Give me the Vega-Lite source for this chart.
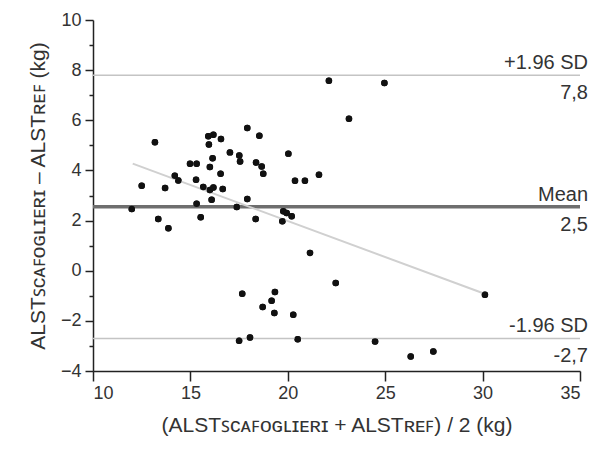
{
  "$schema": "https://vega.github.io/schema/vega-lite/v6.json",
  "width": 487,
  "height": 351,
  "autosize": {"type": "none"},
  "padding": {"left": 93, "top": 20, "right": 33, "bottom": 85},
  "background": "white",
  "config": {
    "view": {"stroke": null},
    "font": "Liberation Sans",
    "axis": {
      "grid": false,
      "domainColor": "#222",
      "domainWidth": 1.5,
      "tickColor": "#222",
      "tickWidth": 1.5,
      "tickSize": 8,
      "labelFontSize": 18,
      "labelColor": "#333",
      "titleFontSize": 21,
      "titleFontWeight": "normal",
      "titleColor": "#333"
    }
  },
  "resolve": {"axis": {"y": "independent"}},
  "datasets": {
    "pts": [
      {"avg": 11.99, "diff": 2.46}, {"avg": 12.5, "diff": 3.39}, {"avg": 13.18, "diff": 5.12},
      {"avg": 13.35, "diff": 2.06}, {"avg": 13.7, "diff": 3.3}, {"avg": 13.87, "diff": 1.69},
      {"avg": 14.2, "diff": 3.79}, {"avg": 14.38, "diff": 3.6}, {"avg": 14.98, "diff": 4.27},
      {"avg": 15.32, "diff": 4.27}, {"avg": 15.29, "diff": 3.63}, {"avg": 15.66, "diff": 3.34},
      {"avg": 15.32, "diff": 2.67}, {"avg": 15.53, "diff": 2.13}, {"avg": 15.92, "diff": 5.36},
      {"avg": 16.18, "diff": 5.42}, {"avg": 16.57, "diff": 5.25}, {"avg": 15.95, "diff": 5.03},
      {"avg": 16.14, "diff": 4.49}, {"avg": 16.0, "diff": 4.14}, {"avg": 16.55, "diff": 3.87},
      {"avg": 16.0, "diff": 3.22}, {"avg": 16.18, "diff": 3.32}, {"avg": 16.66, "diff": 3.26},
      {"avg": 16.09, "diff": 2.83}, {"avg": 17.03, "diff": 4.72}, {"avg": 17.51, "diff": 4.6},
      {"avg": 17.55, "diff": 4.36}, {"avg": 17.92, "diff": 5.69}, {"avg": 18.54, "diff": 5.38},
      {"avg": 18.37, "diff": 4.32}, {"avg": 18.66, "diff": 4.16}, {"avg": 18.74, "diff": 3.87},
      {"avg": 17.92, "diff": 2.86}, {"avg": 17.38, "diff": 2.54}, {"avg": 18.35, "diff": 2.06},
      {"avg": 20.03, "diff": 4.67}, {"avg": 20.37, "diff": 3.59}, {"avg": 20.88, "diff": 3.59},
      {"avg": 21.6, "diff": 3.83}, {"avg": 22.11, "diff": 7.58}, {"avg": 24.96, "diff": 7.49},
      {"avg": 23.14, "diff": 6.06}, {"avg": 19.77, "diff": 2.37}, {"avg": 19.94, "diff": 2.3},
      {"avg": 20.2, "diff": 2.17}, {"avg": 19.72, "diff": 1.97}, {"avg": 21.14, "diff": 0.71},
      {"avg": 22.46, "diff": -0.49}, {"avg": 30.12, "diff": -0.96}, {"avg": 17.66, "diff": -0.92},
      {"avg": 19.34, "diff": -0.85}, {"avg": 19.17, "diff": -1.2}, {"avg": 18.71, "diff": -1.45},
      {"avg": 19.31, "diff": -1.69}, {"avg": 20.28, "diff": -1.76}, {"avg": 17.5, "diff": -2.79},
      {"avg": 18.06, "diff": -2.66}, {"avg": 20.51, "diff": -2.73}, {"avg": 24.48, "diff": -2.82},
      {"avg": 26.31, "diff": -3.42}, {"avg": 27.47, "diff": -3.22}
    ],
    "sd": [{"y": 7.8}, {"y": -2.7}],
    "mean": [{"y": 2.55}],
    "reg": [{"avg": 12.04, "diff": 4.27}, {"avg": 30.1, "diff": -0.92}],
    "labels": [
      {"x": 35, "y": 7.8, "top": "+1.96 SD", "bottom": "7,8"},
      {"x": 35, "y": 2.55, "top": "Mean", "bottom": "2,5"},
      {"x": 35, "y": -2.7, "top": "-1.96 SD", "bottom": "-2,7"}
    ]
  },
  "layer": [
    {
      "data": {"name": "pts"},
      "mark": {"type": "circle", "color": "#111", "opacity": 1, "size": 42},
      "encoding": {
        "x": {
          "field": "avg", "type": "quantitative",
          "scale": {"domain": [10, 35], "nice": false, "zero": false},
          "axis": {"values": [10, 15, 20, 25, 30, 35], "tickSize": 10, "title": "(ALSTꜱᴄᴀꜰᴏɢʟɪᴇʀɪ + ALSTʀᴇꜰ) / 2 (kg)", "titlePadding": 12, "labelPadding": 3}
        },
        "y": {
          "field": "diff", "type": "quantitative",
          "scale": {"domain": [-4, 10], "nice": false, "zero": false},
          "axis": {"orient": "left", "values": [-4, -2, 0, 2, 4, 6, 8, 10], "title": "ALSTꜱᴄᴀꜰᴏɢʟɪᴇʀɪ – ALSTʀᴇꜰ (kg)", "titlePadding": 12, "labelPadding": 4}
        }
      }
    },
    {
      "data": {"name": "sd"},
      "mark": {"type": "rule", "color": "#c4c4c4", "strokeWidth": 1.5},
      "encoding": {
        "y": {
          "field": "y", "type": "quantitative",
          "axis": {"orient": "left", "values": [-3, -1, 1, 3, 5, 7, 9], "labels": false, "domain": false, "tickSize": 4, "title": null}
        }
      }
    },
    {
      "data": {"name": "mean"},
      "mark": {"type": "rule", "color": "#6e6e6e", "strokeWidth": 3.5},
      "encoding": {"y": {"field": "y", "type": "quantitative", "axis": null}}
    },
    {
      "data": {"name": "reg"},
      "mark": {"type": "line", "color": "#d0d0d0", "strokeWidth": 2},
      "encoding": {
        "x": {"field": "avg", "type": "quantitative"},
        "y": {"field": "diff", "type": "quantitative", "axis": null}
      }
    },
    {
      "data": {"name": "pts"},
      "mark": {"type": "circle", "color": "#111", "opacity": 1, "size": 42},
      "encoding": {
        "x": {"field": "avg", "type": "quantitative"},
        "y": {"field": "diff", "type": "quantitative", "axis": null}
      }
    },
    {
      "data": {"name": "labels"},
      "mark": {"type": "text", "align": "right", "baseline": "alphabetic", "dy": -6, "dx": 8, "fontSize": 20, "color": "#333"},
      "encoding": {
        "x": {"field": "x", "type": "quantitative"},
        "y": {"field": "y", "type": "quantitative", "axis": null},
        "text": {"field": "top"}
      }
    },
    {
      "data": {"name": "labels"},
      "mark": {"type": "text", "align": "right", "baseline": "alphabetic", "dy": 24, "dx": 8, "fontSize": 20, "color": "#333"},
      "encoding": {
        "x": {"field": "x", "type": "quantitative"},
        "y": {"field": "y", "type": "quantitative", "axis": null},
        "text": {"field": "bottom"}
      }
    }
  ]
}
